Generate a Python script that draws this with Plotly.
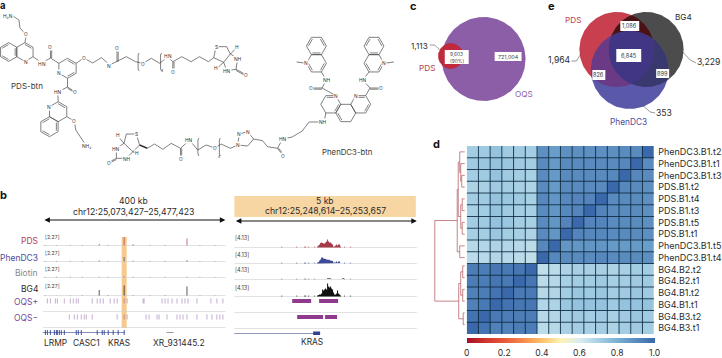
import math
import numpy as np
import plotly.graph_objects as go

FONT = "Inter"
INK = "#2b2b2b"
RED, BLUE, GREY, PURPLE = "#b8404f", "#4c4c9e", "#8a8a8a", "#84519f"

# ---------- data ----------
row_labels = ["PhenDC3.B1.t2", "PhenDC3.B1.t1", "PhenDC3.B1.t3", "PDS.B1.t2", "PDS.B1.t4", "PDS.B1.t3",
              "PDS.B1.t5", "PDS.B1.t1", "PhenDC3.B1.t5", "PhenDC3.B1.t4", "BG4.B2.t2", "BG4.B2.t1",
              "BG4.B1.t2", "BG4.B1.t1", "BG4.B3.t2", "BG4.B3.t1"]
corr = [
 [.71,.72,.74,.72,.72,.71,.89,.85,.89,.89,.89,.89,.89,.90,.90,1.0],
 [.72,.73,.74,.73,.72,.71,.90,.86,.90,.90,.90,.90,.90,.91,1.0,.90],
 [.71,.72,.74,.72,.71,.70,.90,.86,.90,.90,.90,.90,.91,1.0,.91,.90],
 [.69,.70,.72,.71,.70,.69,.90,.86,.90,.90,.90,.90,1.0,.91,.90,.89],
 [.71,.72,.74,.73,.72,.70,.91,.87,.91,.92,.92,1.0,.90,.90,.90,.89],
 [.70,.71,.74,.72,.71,.70,.90,.87,.91,.92,1.0,.92,.90,.90,.90,.89],
 [.71,.72,.74,.73,.71,.70,.90,.87,.92,1.0,.92,.92,.90,.90,.90,.89],
 [.70,.71,.73,.71,.70,.69,.90,.87,1.0,.92,.91,.91,.90,.90,.90,.89],
 [.67,.68,.69,.68,.67,.66,.91,1.0,.87,.87,.87,.87,.86,.86,.86,.85],
 [.66,.67,.68,.67,.66,.65,1.0,.91,.90,.90,.90,.91,.90,.90,.90,.89],
 [.94,.94,.96,.95,.96,1.0,.65,.66,.69,.70,.70,.70,.69,.70,.71,.71],
 [.94,.94,.96,.95,1.0,.96,.66,.67,.70,.71,.71,.72,.70,.71,.72,.72],
 [.93,.94,.97,1.0,.95,.95,.67,.68,.71,.73,.72,.73,.71,.72,.73,.72],
 [.93,.95,1.0,.97,.96,.96,.68,.69,.73,.74,.74,.74,.72,.74,.74,.74],
 [.97,1.0,.95,.94,.94,.94,.67,.68,.71,.72,.71,.72,.70,.72,.73,.72],
 [1.0,.97,.93,.93,.94,.94,.66,.67,.70,.71,.70,.71,.69,.71,.72,.71],
]
cbar_ticks = [0, 0.2, 0.4, 0.6, 0.8, 1.0]
cbar_text = ["0", "0.2", "0.4", "0.6", "0.8", "1.0"]

track_names = ["PDS", "PhenDC3", "Biotin", "BG4"]
left_spike_x = [45, 56, 70, 82, 99, 108, 124, 133, 150, 165, 187, 200, 215]
left_spikes = {
    "PDS": [.5, .5, .6, .5, 1.6, .6, 8.5, 1.5, .6, .6, 7, .5, .5],
    "PhenDC3": [.4, .6, .6, .5, 1.2, .5, 4.5, .8, .6, .6, 1.5, .5, .4],
    "Biotin": [.6, 1, .9, .7, .8, .8, 1.2, .8, .6, .7, .8, .7, .6],
    "BG4": [.2, .2, .3, .3, 5.5, .4, 10, .4, .3, .4, 9, .3, .2],
}
oqs_plus = [47, 50, 55, 57, 64, 70, 73, 76, 78, 92, 97, 100, 103, 110, 114, 117, 124, 127, 143, 144, 162, 165,
            168, 172, 177, 182, 185, 188, 197, 211, 217, 223]
oqs_minus = [69, 74, 77, 81, 84, 86, 92, 117, 124, 127, 146, 149, 157, 159, 167, 177, 180, 183, 187, 197, 207,
             212, 217, 220, 223]
left_exons = [45, 47, 50, 54, 56, 57, 59, 61, 64, 76, 78, 81, 97, 102, 104, 108, 113, 118, 124]
left_genes = ["LRMP", "CASC1", "KRAS", "XR_931445.2"]

peak_start = 318
pds_peak = [1, 2, 3, 4.5, 5, 4.5, 4, 4, 5, 6, 8, 6, 5, 5, 4, 3, 1, 1, 2, 3, 2, 3, 3, 1]
phen_peak = [1, 1.5, 3, 4, 6, 6, 5, 4.5, 4.5, 4, 4, 3.5, 3.5, 3, 3, 2.5, 1, .5, 1, 2, 1, 2, 2, .5]
bg4_peak = [1, 1.5, 2, 2, 3, 7, 6, 7, 8, 7, 13, 10, 9, 10, 8, 7, 4, 2, 2, 3, 6, 3, 2, 1]
right_bumps_x = [282, 297, 305, 306, 309, 315, 345, 351]
oqs_plus_bars = [(293, 312), (320, 339)]
oqs_minus_bars = [(298, 324), (326, 338)]

venn_c = {"OQS": 721004, "PDS only": 1113, "shared": 9603}
venn_e = {"PDS": 1964, "BG4": 3229, "PhenDC3": 353, "PDS&BG4": 1086, "PDS&PhenDC3": 826,
          "BG4&PhenDC3": 899, "all": 6845}

# ---------- helpers ----------
traces, annots = [], []


def T(x, y, s, size=7, color=INK, anchor="center", bold=False, bg=None):
    annots.append(dict(x=x, y=y, xref="x2", yref="y2", text=f"<b>{s}</b>" if bold else s, showarrow=False,
                       xanchor=anchor, yanchor="middle", font=dict(family=FONT, size=size, color=color),
                       bgcolor=bg, borderpad=0))


def line(xs, ys, color=INK, width=0.7):
    traces.append(go.Scatter(x=xs, y=ys, xaxis="x2", yaxis="y2", mode="lines", hoverinfo="skip",
                             line=dict(color=color, width=width), showlegend=False))


def poly(xs, ys, fill, lw=0, lc=None):
    traces.append(go.Scatter(x=list(xs) + [xs[0]], y=list(ys) + [ys[0]], xaxis="x2", yaxis="y2", mode="lines",
                             fill="toself", fillcolor=fill, hoverinfo="skip", showlegend=False,
                             line=dict(width=lw, color=lc or fill)))


def box(x0, y0, x1, y1, fill="white"):
    poly([x0, x1, x1, x0], [y0, y0, y1, y1], fill)


bonds_x, bonds_y = [], []


def chain(*pts):
    for p in pts:
        bonds_x.append(p[0]); bonds_y.append(p[1])
    bonds_x.append(None); bonds_y.append(None)


def dbl(p, q, dx=1.2, dy=0):
    chain(p, q)
    chain((p[0] + dx, p[1] + dy), (q[0] + dx, q[1] + dy))


def hexring(cx, cy, r=10, flat=False, inner=()):
    start = 0 if flat else -90
    v = [(cx + r * math.cos(math.radians(start + 60 * i)), cy + r * math.sin(math.radians(start + 60 * i)))
         for i in range(6)]
    chain(*v, v[0])
    for i in inner:
        a, b = v[i], v[(i + 1) % 6]
        chain((a[0] + .2 * (cx - a[0]), a[1] + .2 * (cy - a[1])), (b[0] + .2 * (cx - b[0]), b[1] + .2 * (cy - b[1])))
    return v


def bracket(x, y, h=9):
    chain((x + 1, y - h), (x, y - h + 2), (x, y + h - 2), (x + 1, y + h))


def atom(x, y, s, size=4.8):
    T(x, y, s, size=size, color="#333", bg="white")


# ---------- panel a : PDS-btn ----------
a = hexring(8.7, 52, 9.4, inner=(1, 3, 5))
b = hexring(25, 52, 9.4, inner=(0,))
c = hexring(67.7, 68.3, 10, inner=(0, 2))
d = hexring(58.3, 111.7, 10, inner=(0,))
e = hexring(49.6, 126.7, 10, inner=(1, 3, 5))
chain(b[0], (26.5, 35), (20, 28), (19, 20), (13, 16))
chain(b[2], (42, 63), (50.6, 58), c[5])
dbl((50.6, 58), (50.6, 48))
chain(c[3], (67.7, 87), (58, 92), d[0])
dbl((67.7, 87), (75, 91.6), 0, 1.2)
chain(d[2], (74.5, 121), (76, 130), (83, 140), (86, 145))
chain(c[1], (84, 58), (93, 63), (101.7, 57.5), (110, 65), (117.3, 61.7), (126.7, 56.7), (136, 61.7), (143.3, 63.3),
      (151.7, 58.3), (160, 63.3), (168, 57), (173.3, 61.7), (182.3, 56.7), (191.7, 61.7), (200, 56.7), (209, 61.7),
      (214.3, 57.7))
dbl((117.3, 61.7), (117.3, 48.3))
dbl((173.3, 61.7), (173.3, 71.7))
chain((214.3, 57.7), (216.7, 46.7), (227.3, 46.7), (231, 54), (224.3, 62.3), (214.3, 57.7))
chain((231, 54), (238.3, 58.3), (236.7, 69.3), (227.3, 70.7), (224.3, 62.3))
dbl((236.7, 69.3), (246, 74.3), 0, 1.2)
chain((231, 54), (236, 49)); chain((224.3, 62.3), (219, 67))
bracket(138.5, 62); bracket(161, 62)
for x_, y_, s_ in [(8, 15.5, "H₂N"), (26.5, 34, "O"), (25.7, 62, "N"), (42, 64, "H\u200aN"), (50.6, 47, "O"),
                   (59, 73, "N"), (84, 58, "O"), (109, 66, "N"), (117.3, 48, "O"), (143.3, 63.5, "O"), (168, 56, "H\u200aN"),
                   (173.3, 72, "O"), (216.7, 46.7, "S"), (239, 58.5, "NH"), (228, 71, "HN"), (246.5, 75, "O"),
                   (237.5, 47, "H"), (216.7, 68.3, "H"), (58, 91.5, "HN"), (75.5, 91.6, "O"), (49.6, 106.5, "N"), (74.7, 120.7, "O"),
                   (87, 146, "NH₂")]:
    atom(x_, y_, s_)
T(163, 71, "4", size=3.5)
T(27, 86, "PDS-btn", size=8, color="#3a3a3a")

# ---------- panel a : PhenDC3-btn ----------
u1 = hexring(317.3, 46, 10, flat=True, inner=(1, 3, 5))
l1 = hexring(317.3, 63.3, 10, flat=True, inner=(0, 2))
u2 = hexring(375, 46, 10, flat=True, inner=(1, 3, 5))
l2 = hexring(375, 63.3, 10, flat=True, inner=(0, 2))
p1 = hexring(331.7, 104.3, 10, flat=True, inner=(4, 0))
p2 = hexring(346.7, 113, 10, flat=True, inner=(2,))
p3 = hexring(361.7, 104.3, 10, flat=True, inner=(4, 0))
chain(l1[3], (297.5, 62))
chain(l2[0], (395, 62))
chain(l1[1], (327, 80), (323, 88), p1[5])
dbl((323, 88), (312, 88), 0, 1.2)
chain(l2[2], (364, 80), (371, 88), p3[5])
dbl((371, 88), (382, 88), 0, 1.2)
chain(p1[2], (325, 122), (310, 122), (303, 131), (293, 137), (283.3, 139), (278.3, 148.3), (268.3, 146.7), (263.3, 140.7),
      (254.3, 139), (248.3, 146), (238.3, 145), (240, 134), (248.3, 131.7), (254.3, 139))
dbl((278.3, 148.3), (283.3, 155))
chain((238.3, 145), (231, 148.3), (221.7, 144), (215.7, 148), (206.7, 145), (198.3, 150), (190, 140), (181, 148.3),
      (171.7, 143.3), (163.3, 149.3), (155, 144), (147.7, 148.3))
dbl((181, 148.3), (181, 158))
line([147.7, 140], [148.3, 145], "#333", 1.5)
chain((140, 145), (136.7, 134), (126.7, 134), (124.3, 143.3), (133.3, 151.7), (140, 145))
chain((124.3, 143.3), (116.7, 148.3), (116.7, 158.3), (126.7, 158.3), (133.3, 151.7))
dbl((116.7, 158.3), (109.5, 162), 0, 1.2)
chain((124.3, 143.3), (119, 137)); chain((133.3, 151.7), (136.5, 153))
bracket(198.5, 147); bracket(220, 147)
for x_, y_, s_ in [(307, 63.3, "N"), (385.5, 63.3, "N"), (327.5, 80, "NH"), (364, 80, "HN"), (311.5, 88, "O"), (382.5, 88, "O"),
                   (336.5, 95.5, "N"), (356.5, 95.5, "N"), (323.5, 122, "NH"), (283.3, 139, "HN"), (283.6, 155.5, "O"),
                   (238.3, 145, "N"), (240, 134, "N"), (248.3, 131.7, "N"), (215.7, 148, "O"), (190, 139.5, "HN"), (181, 158.5, "O"),
                   (136.7, 134, "S"), (116, 148.5, "HN"), (127.5, 158.5, "NH"), (109, 162.7, "O"), (118.3, 135, "H"), (137, 153, "H")]:
    atom(x_, y_, s_)
T(220.5, 157, "4", size=3.5)
T(348, 152, "PhenDC3-btn", size=7.8, color="#3a3a3a")
line(bonds_x, bonds_y, "#3d3d3d", 0.65)
T(3.5, 5.5, "a", size=9.5, bold=True, color="#111")

# ---------- panel b : left tracks ----------
T(4, 195, "b", size=11, bold=True, color="#111")
T(134, 201, "400 kb", size=8.6)
T(134, 212, "chr12:25,073,427–25,477,423", size=8.7)
box(122, 237, 127, 328, "#f6c98c")
left_base = {"PDS": 245, "PhenDC3": 261, "Biotin": 277, "BG4": 295}
track_col = {"PDS": "#a63a48", "PhenDC3": "#3c4a98", "Biotin": "#777777", "BG4": "#111111"}
label_col = {"PDS": RED, "PhenDC3": BLUE, "Biotin": GREY, "BG4": INK}
label_y = {"PDS": 241, "PhenDC3": 258, "Biotin": 273, "BG4": 289}
scale_y = {"PDS": 237, "PhenDC3": 253, "Biotin": 269, "BG4": 286}
for name in track_names:
    base = left_base[name] + .5
    line([43, 226], [base, base], "#cfcfcf", 0.6)
    xs, ys = [], []
    for x_, h in zip(left_spike_x, left_spikes[name]):
        xs += [x_ + .5, x_ + .5, None]; ys += [base, base - h, None]
    line(xs, ys, track_col[name], 0.7)
    T(39, label_y[name], name, size=8.5, color=label_col[name], anchor="right")
    T(44.5, scale_y[name], "[2.27]", size=5.2, color="#444", anchor="left")
for positions, base, lab, ly in [(oqs_plus, 311.5, "OQS+", 302), (oqs_minus, 327.5, "OQS−", 318)]:
    line([43, 226], [base, base], "#cfcfcf", 0.6)
    xs, ys = [], []
    for x_ in positions:
        xs += [x_ + .5, x_ + .5, None]; ys += [base - 13, base - 8, None]
    line(xs, ys, "#8a5aa0", 0.5)
    T(39, ly, lab, size=8.5, color="#7d4a9a", anchor="right")
line([43, 125], [332.5, 332.5], "#2f438f", 0.6)
line([167, 174], [332.5, 332.5], "#555", 0.6)
xs, ys = [], []
for x_ in left_exons:
    xs += [x_ + .5, x_ + .5, None]; ys += [330, 335, None]
line(xs, ys, "#2f438f", 0.9)
for x_, s_ in zip([56, 86.5, 119, 179.5], left_genes):
    T(x_, 343, s_, size=8.4)

# ---------- panel b : right tracks ----------
box(235, 196, 417, 217, "#f8d6a4")
T(326, 201, "5 kb", size=8.6)
T(326, 211, "chr12:25,248,614–25,253,657", size=8.7)
annots.append(dict(x=418, y=221, ax=235, ay=221, xref="x2", yref="y2", axref="x2", ayref="y2", text="", showarrow=True,
                   arrowhead=2, arrowside="end+start", arrowwidth=1, arrowsize=1.1, arrowcolor="#111"))
annots.append(dict(x=226, y=220, ax=43, ay=220, xref="x2", yref="y2", axref="x2", ayref="y2", text="", showarrow=True,
                   arrowhead=2, arrowside="end+start", arrowwidth=1, arrowsize=1.1, arrowcolor="#111"))
right_base = {"PDS": 247, "PhenDC3": 263, "Biotin": 279, "BG4": 296}
right_scale = {"PDS": 238, "PhenDC3": 255, "Biotin": 270, "BG4": 288}
for name, peak in zip(track_names, [pds_peak, phen_peak, None, bg4_peak]):
    base = right_base[name] + .5
    line([235, 418], [base, base], "#cfcfcf", 0.6)
    T(235, right_scale[name], "[4.13]", size=5.6, color="#444", anchor="left")
    xs, ys = [], []
    for x_ in right_bumps_x:
        xs += [x_ + .5, x_ + .5, None]; ys += [base, base - 0.9, None]
    line(xs, ys, track_col[name], 0.8)
    if peak is not None:
        px_, py_ = [peak_start], [base]
        for i, h in enumerate(peak):
            px_ += [peak_start + i, peak_start + i + 1]; py_ += [base - h, base - h]
        px_.append(peak_start + len(peak)); py_.append(base)
        poly(px_, py_, track_col[name])
    else:
        line([328, 332, None, 343, 345], [base - 1, base - 1, None, base - 1, base - 1], "#777", 1)
line([235, 418], [312.5, 312.5], "#cfcfcf", 0.6)
line([235, 418], [328.5, 328.5], "#cfcfcf", 0.6)
for x0_, x1_ in oqs_plus_bars:
    box(x0_, 299, x1_, 303, "#8e3a8e")
for x0_, x1_ in oqs_minus_bars:
    box(x0_, 315, x1_, 319, "#8e3a8e")
line([235, 315], [333.5, 333.5], "#44508f", 0.6)
box(314, 331.5, 321, 335, "#2f438f")
T(313, 342, "KRAS", size=8.4)


# ---------- venn helpers ----------
def circ(cx, cy, r, n=180):
    t = np.linspace(0, 2 * np.pi, n, endpoint=False)
    return np.c_[cx + r * np.cos(t), cy + r * np.sin(t)]


def lens(circles):
    pts = []
    for i, (cx, cy, r) in enumerate(circles):
        p = circ(cx, cy, r, 720)
        keep = np.ones(len(p), bool)
        for j, (ox, oy, or_) in enumerate(circles):
            if j != i:
                keep &= (p[:, 0] - ox) ** 2 + (p[:, 1] - oy) ** 2 <= or_ ** 2
        pts.append(p[keep])
    p = np.vstack(pts)
    m = p.mean(axis=0)
    order = np.argsort(np.arctan2(p[:, 1] - m[1], p[:, 0] - m[0]))
    return p[order]


def fill_region(p, colour):
    poly(p[:, 0].tolist(), p[:, 1].tolist(), colour)


# ---------- panel c ----------
T(415, 6, "c", size=11, bold=True, color="#111")
oqs_c, pds_c = (485, 59, 42), (452, 56, 12.7)
fill_region(circ(*oqs_c), "#8d5ea8")
fill_region(circ(*pds_c), "#bf2a3e")
fill_region(lens([oqs_c, pds_c]), "#bf2a3e")
box(446, 50, 470, 64)
box(496, 52, 523, 61)
T(458, 53.5, f"{venn_c['shared']:,}", size=4.8, color="#444")
T(458, 60.5, "(90%)", size=4.8, color="#444")
T(509.5, 56.5, f"{venn_c['OQS']:,}", size=5.4, color="#444")
T(525, 94, "OQS", size=8.2, color="#8d5ea8")
T(421, 46, f"{venn_c['PDS only']:,}", size=8.2)
T(428, 68, "PDS", size=8.2, color=RED)
line([431, 436, 441], [45, 45, 50], "#555", 0.6)

# ---------- panel e ----------
T(553, 6, "e", size=11, bold=True, color="#111")
pe, be, fe = (618.5, 49.5, 37.5), (648, 49.5, 37.5), (631.5, 70, 39)
fill_region(circ(*pe), "#c8404f")
fill_region(circ(*be), "#4c4c4c")
fill_region(circ(*fe), "#5a58a8")
fill_region(lens([pe, be]), "#4a1216")
fill_region(lens([pe, fe]), "#6a3a86")
fill_region(lens([be, fe]), "#39386f")
fill_region(lens([pe, be, fe]), "#403684")
for x0_, y0_, x1_, y1_, key in [(622, 21, 641, 31, "PDS&BG4"), (618, 49, 643, 62, "all"), (594, 70, 607, 80, "PDS&PhenDC3"),
                                (658, 69, 671, 78, "BG4&PhenDC3")]:
    box(x0_, y0_, x1_, y1_)
    T((x0_ + x1_) / 2, (y0_ + y1_) / 2, f"{venn_e[key]:,}", size=5.6, color="#333")
T(575, 20, "PDS", size=8.2, color=RED)
T(685.5, 17, "BG4", size=8.2)
T(561, 60, f"{venn_e['PDS']:,}", size=8.6)
T(710.5, 62, f"{venn_e['BG4']:,}", size=8.6)
T(666, 113, f"{venn_e['PhenDC3']:,}", size=8.6)
T(630, 122, "PhenDC3", size=8.3, color=BLUE)
line([573, 578, 583], [61, 61, 53], "#555", 0.6)
line([682, 692, 698], [49, 60, 63], "#555", 0.6)
line([644, 652, 657], [105, 112, 113], "#555", 0.6)

# ---------- panel d : dendrogram ----------
T(438, 144, "d", size=11, bold=True, color="#111")
H0, ROW = 146.0, 11.75


def leaf_y(r):
    return H0 + ROW * (r + .5) - (3.5 if r >= 10 else 0)


dendro = (436,
          (458.5,
           (459.5,
            (461, 0, (462, 1, (463, 2, 3))),
            (462, (463.5, 4, 5), (463.5, 6, 7))),
           (461, 8, 9)),
          (460,
           (462, (464, 10, 11), (464, 12, 13)),
           (464.5, 14, 15)))
dx, dy = [], []


def draw(node):
    if isinstance(node, int):
        return 466, leaf_y(node)
    h, l, r = node
    xl, yl = draw(l)
    xr, yr = draw(r)
    dx.extend([xl, h, h, xr, None]); dy.extend([yl, yl, yr, yr, None])
    return h, (yl + yr) / 2


draw(dendro)
line(dx, dy, "#b9656a", 0.8)

# ---------- panel d : heatmap ----------
scale = [[0, "#a50f25"], [.1, "#d0342a"], [.2, "#e8593a"], [.3, "#f58b4c"], [.4, "#fcc26c"], [.5, "#fdf4b4"],
         [.6, "#d8ecef"], [.7, "#a8d0e4"], [.8, "#79b0d4"], [.9, "#5a8bbf"], [1, "#3a68ab"]]
n = len(row_labels)
heat = go.Heatmap(
    z=corr, x=list(range(n)), y=row_labels, colorscale=scale, zmin=0, zmax=1, hoverinfo="skip",
    colorbar=dict(orientation="h", x=468 / 722, xanchor="left", y=1 - 338 / 358, yanchor="top", lenmode="pixels", len=188,
                  thicknessmode="pixels", thickness=5, outlinewidth=0, xpad=0, ypad=0, ticks="outside", ticklen=3,
                  tickcolor="rgba(0,0,0,0)", tickvals=cbar_ticks,
                  ticktext=cbar_text, tickfont=dict(family=FONT, size=8.6, color=INK), ticklabelposition="outside"))
gx, gy = [], []
for i in range(1, n):
    gx += [i - .5, i - .5, None]; gy += [-.5, n - .5, None]
    gx += [-.5, n - .5, None]; gy += [i - .5, i - .5, None]
grid = go.Scatter(x=gx, y=gy, yaxis="y3", mode="lines",
                  line=dict(color="rgba(12,40,62,0.95)", width=0.9), hoverinfo="skip", showlegend=False)

fig = go.Figure([heat, grid] + traces)
fig.update_layout(
    width=722, height=358, autosize=False, margin=dict(l=0, r=0, t=0, b=0), paper_bgcolor="white",
    plot_bgcolor="rgba(0,0,0,0)", showlegend=False, annotations=annots, font=dict(family=FONT),
    xaxis=dict(domain=[468 / 722, 656 / 722], range=[-.5, n - .5], visible=False, fixedrange=True),
    yaxis=dict(domain=[1 - 334 / 358, 1 - 146 / 358], autorange="reversed", side="right", ticks="", showline=False,
               showgrid=False, zeroline=False, tickfont=dict(family=FONT, size=9, color=INK), ticklabelstandoff=3,
               type="category", categoryorder="array", categoryarray=row_labels),
    yaxis3=dict(domain=[1 - 334 / 358, 1 - 146 / 358], range=[n - .5, -.5], overlaying="y", visible=False, anchor="x",
                fixedrange=True),
    xaxis2=dict(domain=[0, 1], range=[0, 722], visible=False, fixedrange=True, anchor="y2"),
    yaxis2=dict(domain=[0, 1], range=[358, 0], visible=False, fixedrange=True, anchor="x2"),
)
fig.write_html("out.html", config=dict(displayModeBar=False),
               post_script="document.body.style.margin='0';document.documentElement.style.overflow='hidden';")
